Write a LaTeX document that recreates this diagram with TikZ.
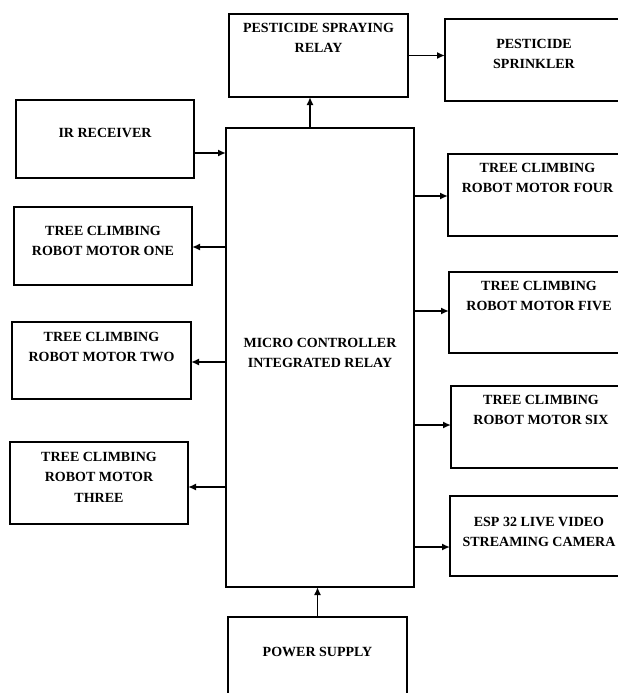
\documentclass[tikz,border=0pt]{standalone}
\usepackage{fontspec}
\setmainfont{Liberation Serif}
\usetikzlibrary{arrows.meta}
\begin{document}
\begin{tikzpicture}[x=1pt,y=-1pt,
  blk/.style={draw, line width=1.9pt, inner sep=0pt, outer sep=0pt},
  lbl/.style={font=\bfseries\fontsize{14}{20.5}\selectfont, align=center, inner sep=0pt, anchor=north},
  arr/.style={line width=1.6pt, -{Latex[length=8pt,width=7pt]}}]
\useasboundingbox (0,0) rectangle (618,693);
\clip (0,0) rectangle (618,693);
% boxes
\node[blk, minimum width=179pt, minimum height=83pt] (relay) at (318.5,55.5) {};
\node[blk, minimum width=178pt, minimum height=82pt] (sprinkler) at (534,60) {};
\node[blk, minimum width=178pt, minimum height=78pt] (ir) at (105,139) {};
\node[blk, minimum width=178pt, minimum height=78pt] (one) at (103,246) {};
\node[blk, minimum width=179pt, minimum height=77pt] (two) at (101.5,360.5) {};
\node[blk, minimum width=178pt, minimum height=82pt] (three) at (99,483) {};
\node[blk, minimum width=179pt, minimum height=82pt] (four) at (537.5,195) {};
\node[blk, minimum width=180pt, minimum height=81pt] (five) at (539,312.5) {};
\node[blk, minimum width=180pt, minimum height=82pt] (six) at (541,427) {};
\node[blk, minimum width=178pt, minimum height=80pt] (esp) at (539,536) {};
\node[blk, minimum width=188pt, minimum height=459pt] (main) at (320,357.5) {};
\node[blk, minimum width=179pt, minimum height=83pt] (power) at (317.5,658.5) {};
% labels
\node[lbl] (trelay) at ([yshift=-9pt]relay.north) {PESTICIDE SPRAYING\\RELAY};
\node[lbl] (tsprinkler) at ([yshift=-20pt]sprinkler.north) {PESTICIDE\\SPRINKLER};
\node[lbl] (tir) at ([yshift=-28pt]ir.north) {IR RECEIVER};
\node[lbl] (tone) at ([yshift=-19pt]one.north) {TREE CLIMBING\\ROBOT MOTOR ONE};
\node[lbl] (ttwo) at ([yshift=-10pt]two.north) {TREE CLIMBING\\ROBOT MOTOR TWO};
\node[lbl] (tthree) at ([yshift=-10pt]three.north) {TREE CLIMBING\\ROBOT MOTOR\\THREE};
\node[lbl] (tfour) at ([yshift=-9pt]four.north) {TREE CLIMBING\\ROBOT MOTOR FOUR};
\node[lbl] (tfive) at ([yshift=-9pt]five.north) {TREE CLIMBING\\ROBOT MOTOR FIVE};
\node[lbl] (tsix) at ([yshift=-9pt]six.north) {TREE CLIMBING\\ROBOT MOTOR SIX};
\node[lbl] (tesp) at ([yshift=-21pt]esp.north) {ESP 32 LIVE VIDEO\\STREAMING CAMERA};
\node[lbl] (tmain) at ([yshift=-210pt]main.north) {MICRO CONTROLLER\\INTEGRATED RELAY};
\node[lbl] (tpower) at ([yshift=-30pt]power.north) {POWER SUPPLY};
% connectors
\draw[arr] ([xshift=-10pt]main.north) -- ([xshift=-10pt]main.north |- relay.south);
\draw[arr] (relay.east) -- (relay.east -| sprinkler.west);
\draw[arr] ([yshift=-14pt]ir.east) -- ([yshift=-14pt]ir.east -| main.west);
\draw[arr] ([yshift=-1pt]one.east -| main.west) -- ([yshift=-1pt]one.east);
\draw[arr] ([yshift=-1.5pt]two.east -| main.west) -- ([yshift=-1.5pt]two.east);
\draw[arr] ([yshift=-4pt]three.east -| main.west) -- ([yshift=-4pt]three.east);
\draw[arr] ([yshift=-1pt]four.west -| main.east) -- ([yshift=-1pt]four.west);
\draw[arr] ([yshift=1.5pt]five.west -| main.east) -- ([yshift=1.5pt]five.west);
\draw[arr] ([yshift=2pt]six.west -| main.east) -- ([yshift=2pt]six.west);
\draw[arr] ([yshift=-11pt]esp.west -| main.east) -- ([yshift=-11pt]esp.west);
\draw[arr] (power.north) -- (power.north |- main.south);
\end{tikzpicture}
\end{document}
